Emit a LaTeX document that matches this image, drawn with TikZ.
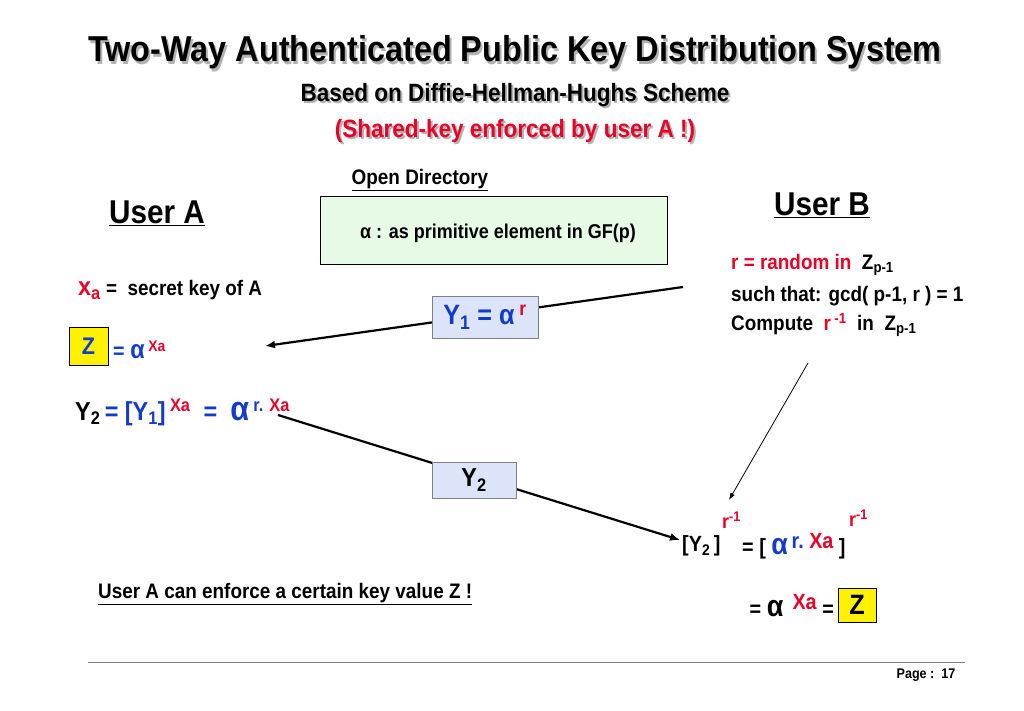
\documentclass[tikz,border=0pt]{standalone}
\usepackage{fontspec}
\setmainfont[FakeStretch=0.9]{Liberation Sans}
\usetikzlibrary{arrows.meta}
\definecolor{tblue}{RGB}{20,60,200}
\definecolor{tred}{RGB}{230,0,40}
\definecolor{tgreen}{RGB}{230,250,230}
\definecolor{tlblue}{RGB}{220,228,250}
\newcommand{\fs}[1]{\fontsize{#1}{#1}\selectfont\bfseries}
\newcommand{\sub}[1]{\textsubscript{#1}}
\newcommand{\supr}[1]{\textsuperscript{#1}}
\begin{document}
\begin{tikzpicture}[x=1pt,y=-1pt,
  lab/.style={inner sep=0,anchor=west},
  arr/.style={line width=2.2pt,-{Latex[length=10pt,width=8pt]}}]
\useasboundingbox (0,0) rectangle (1024,711);
% title with shadow
\node[text=gray!60] at (517,55) {\fs{36}Two-Way Authenticated Public Key Distribution System};
\node (t1) at (515,52) {\fs{36}Two-Way Authenticated Public Key Distribution System};
\node[text=gray!60] at (517,97) {\fs{25}Based on Diffie-Hellman-Hughs Scheme};
\node (t2) at (515,95) {\fs{25}Based on Diffie-Hellman-Hughs Scheme};
\node[text=gray!60] at (517,133) {\fs{25}(Shared-key enforced by user A !)};
\node[text=tred] (t3) at (515,131) {\fs{25}(Shared-key enforced by user A !)};
% open directory
\node (od) at (420,180) {\fs{21}\underline{Open Directory}};
\node[draw,fill=tgreen,line width=1pt,minimum width=347pt,minimum height=67pt] (dir) at (493.5,230.5) {};
\node (dirt) at (498,233) {\fs{20}α : as primitive element in GF(p)};
\node (ua) at (157,213) {\fs{33}\underline{User A}};
\node (ub) at (822,205) {\fs{33}\underline{User B}};
% user B text
\node[lab] (b1) at (731,265) {\fs{21}\textcolor{tred}{r = random in}\ \ Z\sub{p-1}};
\node[lab] (b2) at (731,296) {\fs{21}such that: gcd( p-1, r ) = 1};
\node[lab] (b3) at (731,325) {\fs{21}Compute\ \ \textcolor{tred}{r\,\supr{-1}}\ \ in\ \ Z\sub{p-1}};
% user A text
\node[lab] (xa) at (78,290) {\fs{21}\textcolor{tred}{\fontsize{26}{26}\selectfont x\sub{a}} =\ \ secret key of A};
\node[draw,fill=yellow,minimum width=39pt,minimum height=38pt,inner sep=0] (za) at (88.5,346) {\fs{24}\textcolor{tblue}{Z}};
\node[lab] (zae) at (113,350) {\fs{22}\textcolor{tblue}{= \fontsize{26}{26}\selectfont α}\,\supr{\textcolor{tred}{Xa}}};
\node[lab] (y2a) at (75,412) {\fs{26}Y\sub{2}\,\textcolor{tblue}{= [Y\sub{1}]}\,\supr{\textcolor{tred}{Xa}}\ \ \textcolor{tblue}{=\ \ {\fontsize{34}{34}\selectfont α}}\,\supr{\textcolor{tblue}{r.} \textcolor{tred}{Xa}}};
% arrows
\coordinate (s1) at (683,287);
\coordinate (e1) at (265,346);
\draw[arr] (s1) -- (e1);
\node[draw=gray,fill=tlblue,minimum width=106pt,minimum height=42pt,inner sep=0] (y1) at (485,317) {\fs{28}\textcolor{tblue}{Y\sub{1} = α}\,\supr{\textcolor{tred}{r}}};
\coordinate (s2) at (278,415);
\coordinate (e2) at (680,540);
\draw[arr] (s2) -- (e2);
\node[draw=gray,fill=tlblue,minimum width=84pt,minimum height=36pt,inner sep=0] (y2) at (474,480) {\fs{26}Y\sub{2}};
\coordinate (s3) at (808,363);
\coordinate (e3) at (729,500);
\draw[line width=0.8pt,-{Latex[length=7pt,width=5pt]}] (s3) -- (e3);
% user B result
\node[lab] (r1) at (682,546) {\fs{22}[Y\sub{2}\,]};
\node[lab,text=tred] (r1e) at (722,520) {\fs{20}r\supr{-1}};
\node[lab] (r2) at (742,546) {\fs{22}= [ \textcolor{tblue}{\fontsize{30}{30}\selectfont α}\,\textcolor{tblue}{\raisebox{6pt}{r.}} \textcolor{tred}{\raisebox{6pt}{Xa}} ]};
\node[lab,text=tred] (r2e) at (849,518) {\fs{20}r\supr{-1}};
\node[inner sep=0,anchor=east] (r3) at (834,606) {\fs{22}= {\fontsize{30}{30}\selectfont α}\, \textcolor{tred}{\raisebox{7pt}{Xa}} =};
\node[draw,fill=yellow,minimum width=38pt,minimum height=34pt,inner sep=0] (zb) at (857,605) {\fs{28}Z};
\node[lab] (enf) at (98,594) {\fs{21}\underline{User A can enforce a certain key value Z !}};
\draw[gray,line width=0.8pt] (88,662) -- (965,662);
\node (pg) at (926,675) {\fs{14}Page :\ \ 17};
\end{tikzpicture}
\end{document}
